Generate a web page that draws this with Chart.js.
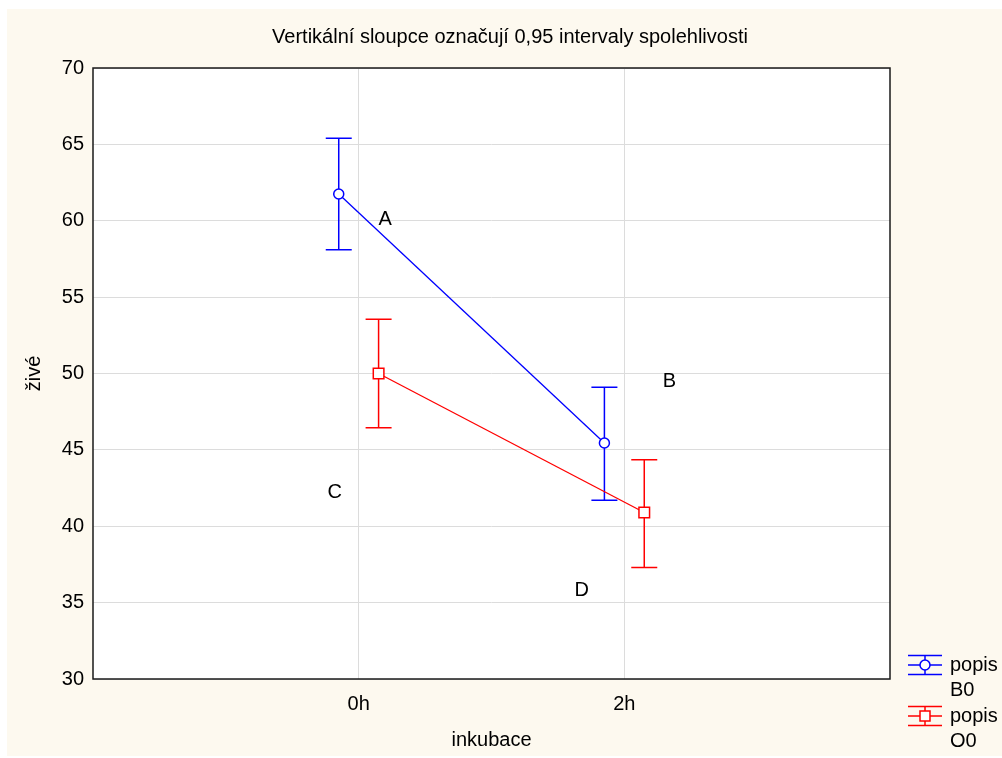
<!DOCTYPE html>
<html>
<head>
<meta charset="utf-8">
<script src="https://cdn.jsdelivr.net/npm/chart.js@4.4.1/dist/chart.umd.min.js"></script>
<style>
  html, body { margin: 0; padding: 0; background: #ffffff; }
  #wrap { width: 1002px; height: 758px; position: relative; }
</style>
</head>
<body>
<div id="wrap"><canvas id="chart" width="1002" height="758"></canvas></div>
<script>
// ===== data =====
var categories = ['0h', '2h'];
var yTicks = [30, 35, 40, 45, 50, 55, 60, 65, 70];

var b0Mean  = [61.75, 45.45];
var b0Upper = [65.4, 49.1];
var b0Lower = [58.1, 41.7];

var o0Mean  = [50.0, 40.9];
var o0Upper = [53.55, 44.35];
var o0Lower = [46.45, 37.3];

var seriesNames = ['popis\nB0', 'popis\nO0'];
var chartTitle = 'Vertikální sloupce označují 0,95 intervaly spolehlivosti';

// letters placed on the plot (in data units)
var noteText = ['A', 'B', 'C', 'D'];
var noteX = [0.1, 1.17, -0.09, 0.84];
var noteY = [60.1, 49.5, 42.2, 35.8];

(function() {
    'use strict';

    var BLUE = '#0000ff';
    var RED = '#ff0000';
    var CREAM = '#fdf9ef';
    var FONT = "'Liberation Sans', Arial, sans-serif";
    var FS = 20;
    var SHIFT = 0.075;   // horizontal dodge of the two series

    function pts(means, shift) {
        return means.map(function(v, i) { return { x: i + shift, y: v }; });
    }

    var series = [
        { color: BLUE, style: 'circle', shift: -SHIFT, mean: b0Mean, lo: b0Lower, hi: b0Upper },
        { color: RED, style: 'rect', shift: SHIFT, mean: o0Mean, lo: o0Lower, hi: o0Upper }
    ];

    // background, plot frame
    var framePlugin = {
        id: 'frame',
        beforeDraw: function(chart) {
            var ctx = chart.ctx, a = chart.chartArea;
            ctx.save();
            ctx.fillStyle = '#ffffff';
            ctx.fillRect(0, 0, chart.width, chart.height);
            ctx.fillStyle = CREAM;
            ctx.fillRect(7, 9, chart.width - 7, chart.height - 11);
            ctx.fillStyle = '#ffffff';
            ctx.fillRect(a.left, a.top, a.right - a.left, a.bottom - a.top);
            ctx.restore();
        },
        afterDraw: function(chart) {
            var ctx = chart.ctx, a = chart.chartArea;
            ctx.save();
            ctx.strokeStyle = '#1a1a1a';
            ctx.lineWidth = 1.5;
            ctx.strokeRect(a.left, a.top, a.right - a.left, a.bottom - a.top);
            ctx.restore();
        }
    };

    function drawBar(ctx, x, y1, y2, cap) {
        ctx.beginPath();
        ctx.moveTo(x, y1); ctx.lineTo(x, y2);
        ctx.moveTo(x - cap, y1); ctx.lineTo(x + cap, y1);
        ctx.moveTo(x - cap, y2); ctx.lineTo(x + cap, y2);
        ctx.stroke();
    }

    // confidence interval whiskers
    var errorPlugin = {
        id: 'errorBars',
        beforeDatasetsDraw: function(chart) {
            var ctx = chart.ctx, xs = chart.scales.x, ys = chart.scales.y;
            ctx.save();
            ctx.lineWidth = 1.5;
            series.forEach(function(s) {
                ctx.strokeStyle = s.color;
                s.mean.forEach(function(m, i) {
                    var px = xs.getPixelForValue(i + s.shift);
                    drawBar(ctx, px, ys.getPixelForValue(s.hi[i]), ys.getPixelForValue(s.lo[i]), 13);
                });
            });
            ctx.restore();
        }
    };

    // title, letters + legend
    var notesPlugin = {
        id: 'notes',
        afterDraw: function(chart) {
            var ctx = chart.ctx, xs = chart.scales.x, ys = chart.scales.y;
            ctx.save();
            ctx.font = FS + 'px ' + FONT;
            ctx.fillStyle = '#000000';
            ctx.textAlign = 'center';
            ctx.textBaseline = 'middle';
            ctx.fillText(chartTitle, 510, 37);
            noteText.forEach(function(t, i) {
                ctx.fillText(t, xs.getPixelForValue(noteX[i]), ys.getPixelForValue(noteY[i]));
            });

            // legend
            var lx = 925, ly = [665, 716];
            series.forEach(function(s, i) {
                var y = ly[i];
                ctx.strokeStyle = s.color;
                ctx.lineWidth = 1.5;
                drawBar(ctx, lx, y - 9.5, y + 9.5, 17);
                ctx.beginPath();
                ctx.moveTo(lx - 17, y); ctx.lineTo(lx + 17, y);
                ctx.stroke();
                ctx.fillStyle = '#ffffff';
                ctx.beginPath();
                if (s.style === 'circle') {
                    ctx.arc(lx, y, 5, 0, Math.PI * 2);
                } else {
                    ctx.rect(lx - 5, y - 5, 10, 10);
                }
                ctx.fill();
                ctx.stroke();
                ctx.fillStyle = '#000000';
                ctx.textAlign = 'left';
                var lines = seriesNames[i].split('\n');
                ctx.fillText(lines[0], 950, y);
                ctx.fillText(lines[1], 950, y + 25);
            });
            ctx.restore();
        }
    };

    var ctx = document.getElementById('chart').getContext('2d');
    new Chart(ctx, {
        type: 'scatter',
        data: {
            datasets: series.map(function(s, i) {
                return {
                    label: seriesNames[i],
                    data: pts(s.mean, s.shift),
                    showLine: true,
                    borderColor: s.color,
                    borderWidth: 1.3,
                    backgroundColor: '#ffffff',
                    pointStyle: s.style,
                    pointRadius: s.style === 'circle' ? 5 : 7.5,
                    pointBorderWidth: 1.5,
                    pointBorderColor: s.color,
                    pointBackgroundColor: '#ffffff'
                };
            })
        },
        options: {
            responsive: false,
            animation: false,
            layout: { padding: { left: 7, top: 68, right: 112, bottom: 2 } },
            plugins: {
                legend: { display: false },
                tooltip: { enabled: false },
                title: { display: false }
            },
            scales: {
                x: {
                    type: 'linear',
                    min: -1,
                    max: 2,
                    afterFit: function(scale) { scale.height = 77; },
                    afterBuildTicks: function(scale) {
                        scale.ticks = categories.map(function(c, i) { return { value: i }; });
                    },
                    ticks: {
                        color: '#000000',
                        font: { family: FONT, size: FS },
                        padding: 13,
                        maxRotation: 0,
                        callback: function(v) { return categories[v]; }
                    },
                    grid: { color: '#dcdcdc', lineWidth: 1, drawTicks: false },
                    border: { display: false },
                    title: {
                        display: true,
                        text: 'inkubace',
                        color: '#000000',
                        font: { family: FONT, size: FS },
                        padding: { top: 0, bottom: 4 }
                    }
                },
                y: {
                    min: 30,
                    max: 70,
                    afterFit: function(scale) { scale.width = 86; },
                    afterBuildTicks: function(scale) {
                        scale.ticks = yTicks.map(function(v) { return { value: v }; });
                    },
                    ticks: {
                        color: '#000000',
                        font: { family: FONT, size: FS },
                        padding: 9
                    },
                    grid: { color: '#dcdcdc', lineWidth: 1, drawTicks: false },
                    border: { display: false },
                    title: {
                        display: true,
                        text: 'živé',
                        color: '#000000',
                        font: { family: FONT, size: FS },
                        padding: { top: 15, bottom: 0 }
                    }
                }
            }
        },
        plugins: [framePlugin, errorPlugin, notesPlugin]
    });
})();
</script>
</body>
</html>
